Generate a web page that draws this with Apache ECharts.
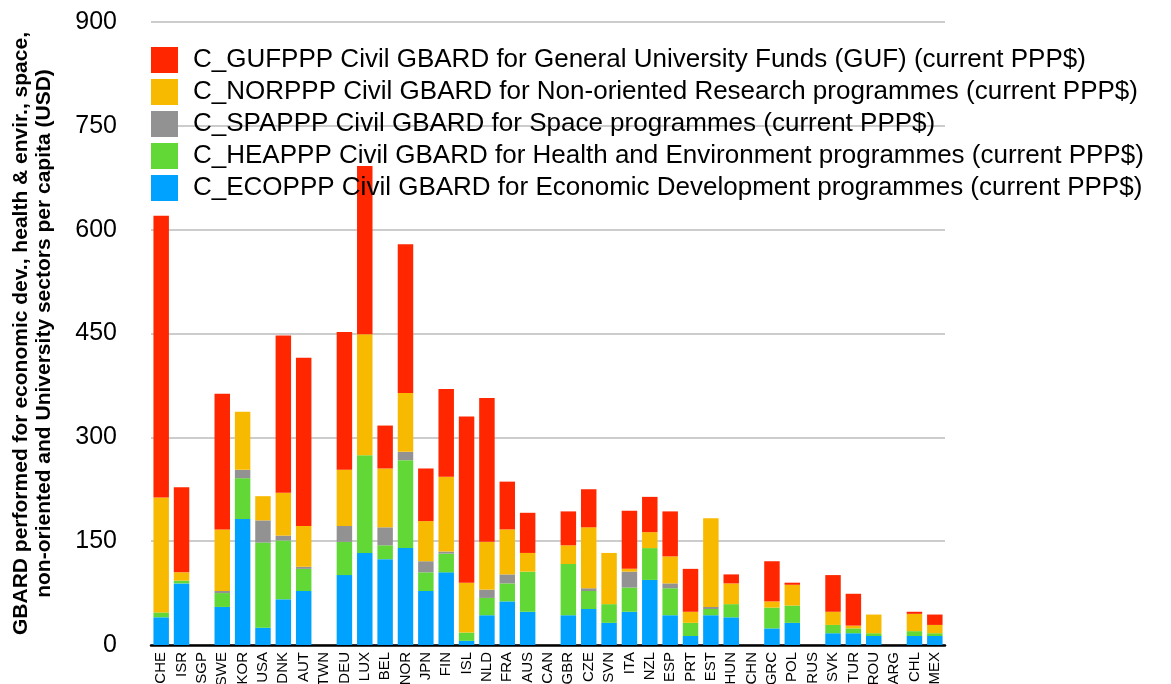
<!DOCTYPE html>
<html>
<head>
<meta charset="utf-8">
<script src="https://cdn.jsdelivr.net/npm/echarts@6/dist/echarts.min.js"></script>
<style>
  html, body { margin: 0; padding: 0; background: #fff; }
  #chart { width: 1171px; height: 684px; }
</style>
</head>
<body>
<div id="chart"></div>
<script>
const countries = ['CHE', 'ISR', 'SGP', 'SWE', 'KOR', 'USA', 'DNK', 'AUT', 'TWN', 'DEU', 'LUX', 'BEL', 'NOR',
  'JPN', 'FIN', 'ISL', 'NLD', 'FRA', 'AUS', 'CAN', 'GBR', 'CZE', 'SVN', 'ITA', 'NZL', 'ESP', 'PRT', 'EST',
  'HUN', 'CHN', 'GRC', 'POL', 'RUS', 'SVK', 'TUR', 'ROU', 'ARG', 'CHL', 'MEX'];

// stacked bottom -> top
const ecoValues = [40, 89, null, 55, 182, 25, 66, 78, null, 101, 133, 124, 140,
  78, 105, 6, 43, 63, 48, null, 43, 52, 32, 48, 94, 43, 13, 43,
  40, null, 24, 32, null, 17, 17, 13, null, 13, 13];
const heaValues = [7, 4, null, 20, 59, 123, 85, 32, null, 48, 141, 20, 127,
  27, 27, 12, 25, 26, 58, null, 74, 26, 27, 35, 46, 39, 19, 9,
  19, null, 30, 25, null, 12, 7, 4, null, 7, 4];
const spaValues = [0, 0, null, 3, 12, 32, 7, 3, null, 23, 0, 26, 12,
  16, 3, 0, 12, 13, 0, null, 0, 4, 0, 23, 0, 7, 0, 3,
  0, null, 0, 0, null, 0, 0, 0, null, 0, 0];
const norValues = [166, 12, null, 89, 84, 35, 62, 59, null, 81, 175, 85, 85,
  58, 108, 72, 69, 65, 27, null, 27, 88, 74, 4, 23, 39, 16, 128,
  30, null, 9, 30, null, 19, 4, 27, null, 25, 12];
const gufValues = [407, 123, null, 196, 0, 0, 227, 243, null, 199, 243, 62, 215,
  76, 127, 240, 208, 69, 58, null, 49, 55, 0, 84, 51, 65, 62, 0,
  13, null, 58, 3, null, 53, 46, 0, null, 3, 15];

const yTicks = [0, 150, 300, 450, 600, 750, 900];

const seriesDefs = [
  { name: 'C_ECOPPP Civil GBARD for Economic Development programmes (current PPP$)', data: ecoValues, color: '#00A2FF' },
  { name: 'C_HEAPPP Civil GBARD for Health and Environment programmes (current PPP$)', data: heaValues, color: '#61D836' },
  { name: 'C_SPAPPP Civil GBARD for Space programmes (current PPP$)', data: spaValues, color: '#929292' },
  { name: 'C_NORPPP Civil GBARD for Non-oriented Research programmes (current PPP$)', data: norValues, color: '#F8BA00' },
  { name: 'C_GUFPPP Civil GBARD for General University Funds (GUF) (current PPP$)', data: gufValues, color: '#FF2600' }
];

const font = "'Liberation Sans', Arial, Helvetica, sans-serif";

const chart = echarts.init(document.getElementById('chart'));

const option = {
  animation: false,
  textStyle: { fontFamily: font },
  legend: {
    orient: 'vertical',
    left: 146,
    top: 42,
    itemWidth: 27,
    itemHeight: 26,
    itemGap: 6,
    icon: 'rect',
    data: seriesDefs.map(s => s.name).reverse(),
    textStyle: {
      fontFamily: font,
      fontSize: 26,
      lineHeight: 26,
      color: '#000',
      padding: [0, 0, 0, 10]
    }
  },
  grid: {
    left: 151,
    right: 226,
    top: 22,
    bottom: 39,
    outerBoundsMode: 'none'
  },
  xAxis: {
    type: 'category',
    data: countries,
    axisLine: {
      lineStyle: { color: '#000', width: 2.5 }
    },
    axisTick: { show: false },
    axisLabel: {
      interval: 0,
      rotate: 90,
      margin: 7,
      fontSize: 15,
      color: '#000',
      fontFamily: font
    }
  },
  yAxis: {
    type: 'value',
    min: yTicks[0],
    max: yTicks[yTicks.length - 1],
    interval: 150,
    name: 'GBARD performed for economic dev., health & envir., space,\nnon-oriented and University sectors per capita (USD)',
    nameLocation: 'middle',
    nameGap: 95,
    nameTextStyle: {
      fontFamily: font,
      fontSize: 21,
      fontWeight: 'bold',
      color: '#000',
      lineHeight: 23
    },
    axisLine: { show: false },
    axisTick: { show: false },
    axisLabel: {
      margin: 34,
      fontSize: 25,
      color: '#000',
      fontFamily: font
    },
    splitLine: {
      lineStyle: { color: '#BBBBBB', width: 1.5 }
    }
  },
  series: seriesDefs.map(s => ({
    name: s.name,
    type: 'bar',
    stack: 'total',
    barWidth: '76%',
    data: s.data,
    itemStyle: { color: s.color }
  }))
};

chart.setOption(option);
</script>
</body>
</html>
